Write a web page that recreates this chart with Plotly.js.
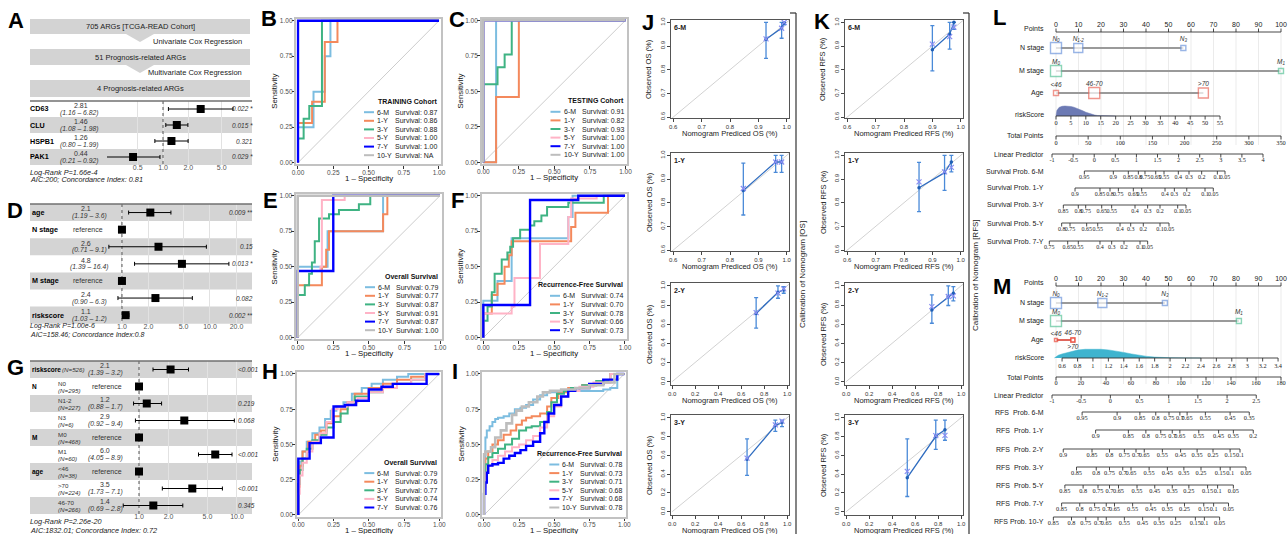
<!DOCTYPE html>
<html><head><meta charset="utf-8">
<script src="https://cdn.plot.ly/plotly-3.0.1.min.js"></script>
<style>html,body{margin:0;padding:0;background:#fff}#chart{width:1288px;height:534px}</style>
</head><body><div id="chart"></div>
<script>
// ================= DATA =================
const flowBoxes=['705 ARGs [TCGA-READ Cohort]','51 Prognosis-related ARGs','4 Prognosis-related ARGs'];
const flowSteps=['Univariate Cox Regression','Multivariate Cox Regression'];

// Panel A forest
const aNames=['CD63','CLU','HSPB1','PAK1'];
const aHR=[2.81,1.46,1.26,0.44];
const aLo=[1.16,1.08,0.80,0.21];
const aHi=[6.82,1.98,1.99,0.92];
const aP=['0.022 *','0.015 *','0.321','0.029 *'];
const aTicks=[0.5,1,2,5];
const aFooter=['Log-Rank P=1.66e-4','AIC:200; Concordance Index: 0.81'];

// Panel D forest
const dNames=['age','N stage','','','M stage','','riskscore'];
const dHR=[2.1,1,2.6,4.8,1,2.4,1.1];
const dLo=[1.19,null,0.71,1.39,null,0.90,1.03];
const dHi=[3.6,null,9.1,16.4,null,6.3,1.2];
const dP=['0.009 **','','0.15','0.013 *','','0.082','0.002 **'];
const dTicks=[1,2,5,10,20];
const dFooter=['Log-Rank P=1.00e-6','AIC=158.46; Concordance Index:0.8'];

// Panel G forest
const gNames=['riskscore','N','','','M','','age','',''];
const gLevels=['','N0','N1-2','N3','M0','M1','<46','>70','46-70'];
const gCounts=['(N=526)','(N=295)','(N=227)','(N=6)','(N=468)','(N=60)','(N=38)','(N=224)','(N=266)'];
const gHR=[2.1,1,1.2,2.9,1,6.0,1,3.5,1.4];
const gLo=[1.39,null,0.88,0.92,null,4.05,null,1.73,0.69];
const gHi=[3.2,null,1.7,9.4,null,8.9,null,7.1,2.8];
const gP=['<0.001','','0.219','0.068','','<0.001','','<0.001','0.345'];
const gTicks=[1,2,5,10];
const gFooter=['Log-Rank P=2.26e-20','AIC:1832.01; Concordance Index: 0.72'];

// ROC panels
const rocTimes=['6-M','1-Y','3-Y','5-Y','7-Y','10-Y'];
const rocTitles=['TRAINING Cohort','TESTING Cohort','Overall Survival','Recurrence-Free Survival','Overall Survival','Recurrence-Free Survival'];
const aucB=['0.87','0.86','0.88','1.00','1.00','NA'];
const aucC=['0.91','0.82','0.93','1.00','1.00','1.00'];
const aucE=['0.79','0.77','0.87','0.91','0.87','1.00'];
const aucF=['0.74','0.70','0.78','0.66','0.73'];
const aucH=['0.79','0.76','0.77','0.74','0.76'];
const aucI=['0.78','0.73','0.71','0.68','0.68','0.78'];

const rocB6M=[[0,0],[0,0.25],[0.11,0.25],[0.11,0.5],[0.19,0.5],[0.19,0.75],[0.23,0.75],[0.23,1],[1,1]];
const rocB1Y=[[0,0],[0,0.28],[0.1,0.28],[0.1,0.43],[0.19,0.43],[0.19,0.85],[0.28,0.85],[0.28,1],[1,1]];
const rocB3Y=[[0,0],[0,0.17],[0.04,0.17],[0.04,0.31],[0.08,0.31],[0.08,0.4],[0.17,0.4],[0.17,1],[1,1]];
const rocB5Y=[[0,0],[0,1],[1,1]];
const rocB7Y=[[0,0],[0,1],[1,1]];

const rocC6M=[[0,0],[0.09,0],[0.09,1],[1,1]];
const rocC1Y=[[0,0],[0.09,0],[0.09,0.46],[0.25,0.46],[0.25,1],[1,1]];
const rocC3Y=[[0,0],[0,0.55],[0.1,0.55],[0.1,0.67],[0.15,0.67],[0.15,0.76],[0.2,0.76],[0.2,1],[1,1]];
const rocC5Y=[[0,0],[0,1],[1,1]];
const rocC7Y=[[0,0],[0,1],[1,1]];
const rocC10Y=[[0,0],[0,1],[1,1]];

const rocE6M=[[0,0],[0,0.5],[0.21,0.5],[0.21,0.75],[0.6,0.75],[0.6,1],[1,1]];
const rocE1Y=[[0,0],[0,0.37],[0.17,0.37],[0.17,0.5],[0.2,0.5],[0.2,0.62],[0.22,0.62],[0.22,0.75],[0.6,0.75],[0.6,0.87],[0.63,0.87],[0.63,1],[1,1]];
const rocE3Y=[[0,0],[0,0.3],[0.05,0.3],[0.05,0.37],[0.08,0.37],[0.08,0.45],[0.1,0.45],[0.1,0.53],[0.12,0.53],[0.12,0.68],[0.15,0.68],[0.15,0.84],[0.22,0.84],[0.22,0.87],[0.29,0.87],[0.29,0.9],[0.43,0.9],[0.43,0.94],[0.51,0.94],[0.51,1],[1,1]];
const rocE5Y=[[0,0],[0,0.47],[0.16,0.47],[0.16,0.5],[0.17,0.5],[0.17,0.97],[0.33,0.97],[0.33,1],[1,1]];
const rocE7Y=[[0,0],[0,0.47],[0.25,0.47],[0.25,1],[1,1]];
const rocE10Y=[[0,0],[0,1],[1,1]];

const rocF6M=[[0,0],[0,0.26],[0.1,0.26],[0.1,0.4],[0.2,0.4],[0.2,0.7],[0.6,0.7],[0.6,0.85],[0.63,0.85],[0.63,1],[1,1]];
const rocF1Y=[[0,0],[0,0.17],[0.06,0.17],[0.06,0.3],[0.1,0.3],[0.1,0.38],[0.15,0.38],[0.15,0.5],[0.18,0.5],[0.18,0.58],[0.2,0.58],[0.2,0.68],[0.62,0.68],[0.62,0.78],[0.65,0.78],[0.65,0.88],[0.88,0.88],[0.88,1],[1,1]];
const rocF3Y=[[0,0],[0,0.12],[0.03,0.12],[0.03,0.22],[0.06,0.22],[0.06,0.32],[0.08,0.32],[0.08,0.45],[0.13,0.45],[0.13,0.55],[0.17,0.55],[0.17,0.6],[0.19,0.6],[0.19,0.64],[0.21,0.64],[0.21,0.7],[0.26,0.7],[0.26,0.76],[0.33,0.76],[0.33,0.79],[0.36,0.79],[0.36,0.82],[0.41,0.82],[0.41,0.86],[0.45,0.86],[0.45,0.92],[0.6,0.92],[0.6,0.95],[0.85,0.95],[0.85,1],[1,1]];
const rocF5Y=[[0,0],[0,0.17],[0.2,0.17],[0.2,0.22],[0.22,0.22],[0.22,0.42],[0.4,0.42],[0.4,0.66],[0.6,0.66],[0.6,0.85],[0.62,0.85],[0.62,0.98],[0.8,0.98],[0.8,1],[1,1]];
const rocF7Y=[[0,0],[0,0.23],[0.33,0.23],[0.33,0.97],[0.67,0.97],[0.67,1],[1,1]];

const rocH6M=[[0,0],[0.01,0.22],[0.03,0.38],[0.06,0.45],[0.1,0.52],[0.15,0.58],[0.19,0.62],[0.23,0.68],[0.27,0.74],[0.32,0.77],[0.38,0.8],[0.45,0.86],[0.52,0.9],[0.6,0.93],[0.7,0.96],[0.78,0.98],[0.84,1],[1,1]];
const rocH1Y=[[0,0],[0.01,0.2],[0.03,0.35],[0.07,0.45],[0.12,0.52],[0.16,0.57],[0.2,0.6],[0.25,0.65],[0.3,0.7],[0.35,0.75],[0.4,0.8],[0.5,0.86],[0.6,0.9],[0.7,0.93],[0.8,0.96],[0.9,0.98],[1,1]];
const rocH3Y=[[0,0],[0.01,0.22],[0.03,0.32],[0.06,0.4],[0.1,0.47],[0.15,0.53],[0.2,0.57],[0.25,0.62],[0.3,0.66],[0.35,0.72],[0.4,0.78],[0.5,0.84],[0.6,0.87],[0.7,0.9],[0.8,0.93],[0.9,0.96],[1,1]];
const rocH5Y=[[0,0],[0.01,0.15],[0.03,0.28],[0.06,0.37],[0.1,0.45],[0.15,0.52],[0.2,0.58],[0.24,0.66],[0.28,0.75],[0.35,0.77],[0.42,0.8],[0.5,0.83],[0.6,0.87],[0.7,0.9],[0.8,0.93],[0.9,0.96],[1,1]];
const rocH7Y=[[0,0],[0.08,0.4],[0.16,0.51],[0.25,0.55],[0.33,0.77],[0.41,0.78],[0.5,0.81],[0.59,0.89],[0.67,0.91],[0.91,0.93],[1,1]];

const rocI6M=[[0,0],[0.01,0.4],[0.02,0.55],[0.04,0.6],[0.06,0.63],[0.08,0.66],[0.1,0.68],[0.14,0.69],[0.18,0.7],[0.22,0.72],[0.26,0.75],[0.3,0.76],[0.35,0.78],[0.4,0.82],[0.45,0.85],[0.55,0.87],[0.65,0.88],[0.75,0.88],[0.85,0.88],[0.9,0.89],[0.95,0.9],[1,1]];
const rocI1Y=[[0,0],[0.01,0.3],[0.03,0.4],[0.06,0.45],[0.1,0.5],[0.14,0.53],[0.19,0.57],[0.23,0.6],[0.27,0.64],[0.3,0.67],[0.34,0.69],[0.4,0.7],[0.45,0.72],[0.48,0.77],[0.53,0.83],[0.6,0.87],[0.7,0.9],[0.8,0.92],[0.9,0.94],[1,1]];
const rocI3Y=[[0,0],[0.01,0.25],[0.03,0.36],[0.06,0.41],[0.1,0.44],[0.15,0.47],[0.2,0.5],[0.25,0.54],[0.3,0.6],[0.34,0.62],[0.4,0.63],[0.45,0.66],[0.48,0.73],[0.52,0.8],[0.57,0.86],[0.62,0.88],[0.7,0.9],[0.8,0.92],[0.9,0.95],[1,1]];
const rocI5Y=[[0,0],[0.01,0.2],[0.03,0.3],[0.06,0.35],[0.1,0.39],[0.15,0.42],[0.2,0.45],[0.25,0.48],[0.3,0.5],[0.35,0.53],[0.4,0.56],[0.45,0.62],[0.5,0.7],[0.55,0.77],[0.6,0.84],[0.68,0.88],[0.78,0.91],[0.9,0.94],[1,1]];
const rocI7Y=[[0,0],[0.01,0.15],[0.02,0.23],[0.03,0.3],[0.06,0.35],[0.1,0.36],[0.14,0.37],[0.18,0.4],[0.22,0.42],[0.26,0.44],[0.3,0.46],[0.35,0.49],[0.4,0.52],[0.43,0.58],[0.46,0.66],[0.5,0.72],[0.55,0.78],[0.6,0.84],[0.65,0.88],[0.75,0.9],[0.85,0.93],[0.95,0.96],[1,1]];
const rocI10Y=[[0,0],[0.01,0.43],[0.05,0.45],[0.08,0.48],[0.12,0.55],[0.16,0.6],[0.2,0.65],[0.23,0.71],[0.27,0.74],[0.32,0.77],[0.38,0.8],[0.42,0.84],[0.47,0.87],[0.55,0.88],[0.65,0.89],[0.75,0.9],[0.85,0.92],[0.93,0.94],[1,1]];

// Calibration (J: OS, K: RFS), rows 6-M, 1-Y, 2-Y, 3-Y
const calTimes=['6-M','1-Y','2-Y','3-Y'];
const jPred=[[0.927,0.982,0.991],[0.847,0.961,0.982],[0.731,0.921,0.971],[0.652,0.898,0.956]];
const jObs=[[0.929,0.976,0.998],[0.852,0.972,0.972],[0.712,0.934,0.958],[0.56,0.917,0.952]];
const jLo=[[0.848,0.933,0.99],[0.748,0.928,0.928],[0.558,0.871,0.923],[0.387,0.855,0.907]];
const jHi=[[1.0,1.0,1.0],[0.967,1.0,1.0],[0.878,1.0,0.993],[0.775,0.976,0.976]];
const jKM=[[0.93,0.975,1.0],[0.86,0.972,0.972],[0.72,0.925,0.968],[0.57,0.925,0.965]];
const kPred=[[0.9,0.961,0.976],[0.853,0.943,0.967],[0.746,0.889,0.933],[0.532,0.78,0.86]];
const kObs=[[0.884,0.95,1.0],[0.863,0.927,0.972],[0.749,0.889,0.923],[0.363,0.803,0.872]];
const kLo=[[0.795,0.887,0.97],[0.762,0.852,0.93],[0.61,0.795,0.843],[0.162,0.664,0.761]];
const kHi=[[0.986,1.0,1.0],[0.97,1.0,1.0],[0.906,1.0,0.993],[0.775,0.976,0.976]];
const kKM=[[0.908,0.94,0.98],[0.888,0.93,0.949],[0.784,0.889,0.895],[0.429,0.81,0.813]];

// Nomogram L (OS)
const pointsTicks=[0,10,20,30,40,50,60,70,80,90,100];
const lNLevels=['N<sub>0</sub>','N<sub>1-2</sub>','N<sub>3</sub>'];
const lNPts=[0,9.9,56.6];
const lMLevels=['M<sub>0</sub>','M<sub>1</sub>'];
const lMPts=[0,100];
const lAgeLevels=['<46','46-70','>70'];
const lAgePts=[0,17,65.5];
const lRiskTicks=[0,5,10,15,20,25,30,35,40,45,50,55];
const lRiskPtsAt55=72.9;
const lRiskDensX=[0,0.3,1,2,3,4,5,6,7,8,9,10,11,12,13,14,15,17,20];
const lRiskDensY=[0,0.55,0.85,0.97,1.0,0.99,0.95,0.88,0.78,0.66,0.52,0.38,0.26,0.16,0.09,0.05,0.03,0.01,0];
const lTotalTicks=[0,50,100,150,200,250,300,350];
const lLPTicks=[-1,-0.5,0,0.5,1,1.5,2,2.5,3,3.5,4];
const lLPTotalEnds=[-6.2,322];
const lSurvNames=['Survival Prob. 6-M','Survival Prob. 1-Y','Survival Prob. 3-Y','Survival Prob. 5-Y','Survival Prob. 7-Y'];
const lSurv6M=[44.1,89.2,112.5,128.1,138.4,155.1,168,190.3,206.9,226.6,251,262.9];
const lSurv6MLab=['0.95','0.9','0.85','0.8','0.75','0.65','0.55','0.4','0.3','0.2','0.1','0.05'];
const lSurv1Y=[29.6,68.4,84,97,120.3,133.3,169.6,184.1,203.4,231.8,244.7];
const lSurv1YLab=['0.9','0.85','0.8','0.75','0.65','0.55','0.4','0.3','0.2','0.1','0.05'];
const lSurv3Y=[11.4,34.7,46.2,71.1,86.6,122.9,142.6,161.8,189.3,202.2];
const lSurv3YLab=['0.85','0.8','0.75','0.65','0.55','0.4','0.3','0.2','0.1','0.05'];
const lSurv5Y=[8.8,21.8,47.7,64.9,99.6,116.2,135.8,161.8,175.8];
const lSurv5YLab=['0.8','0.75','0.65','0.55','0.4','0.3','0.2','0.1','0.05'];
const lSurv7Y=[-10.4,18.2,34.7,68.4,86.6,105.8,130.7,142.6];
const lSurv7YLab=['0.75','0.65','0.55','0.4','0.3','0.2','0.1','0.05'];

// Nomogram M (RFS)
const mNPts=[0,20.6,48.4];
const mMPts=[0,81.3];
const mAgePts=[0,7.5,7.5];
const mRiskTicks=[0.6,0.8,1,1.2,1.4,1.6,1.8,2,2.2,2.4,2.6,2.8,3,3.2,3.4];
const mRiskPtsEnds=[2.7,98.7];
const mRiskDensX=[0.5,0.55,0.6,0.7,0.8,0.9,1.0,1.1,1.2,1.3,1.4,1.5,1.6,1.7,1.8,1.9,2.0,2.2,2.4];
const mRiskDensY=[0,0.3,0.45,0.7,0.88,0.97,1.0,0.97,0.9,0.78,0.62,0.45,0.3,0.18,0.1,0.05,0.03,0.01,0];
const mTotalTicks=[0,20,40,60,80,100,120,140,160,180];
const mLPTicks=[-1,-0.5,0,0.5,1,1.5,2,2.5];
const mLPTotalEnds=[-3.2,160.2];
const mRFSNames=['RFS\u00a0\u00a0Prob. 6-M','RFS\u00a0\u00a0Prob. 1-Y','RFS\u00a0\u00a0Prob. 2-Y','RFS\u00a0\u00a0Prob. 3-Y','RFS\u00a0\u00a0Prob. 5-Y','RFS\u00a0\u00a0Prob. 7-Y','RFS Prob. 10-Y'];
const mRFS6M=[20.9,48.9,67.1,79.8,90.4,99.1,104.9,119.5,139.3,154.6];
const mRFS6MLab=['0.95','0.9','0.85','0.8','0.75','0.7','0.65','0.55','0.45','0.35'];
const mRFS1Y=[31.7,57.9,71.9,83.8,93.0,99.1,114.2,130.1,141.9,157.8];
const mRFS1YLab=['0.9','0.85','0.8','0.75','0.7','0.65','0.55','0.45','0.35','0.2'];
const mRFS2Y=[5.8,28.8,42.8,54.7,64.0,70.6,85.1,99.7,112.9,125.6,139.3,147.2];
const mRFS2YLab=['0.9','0.85','0.8','0.75','0.7','0.65','0.55','0.45','0.35','0.25','0.15','0.1'];
const mRFS3Y=[16.4,32.2,42.8,53.4,60.0,74.5,89.1,102.3,116.0,131.4,139.3,152.0];
const mRFS5Y=[7.1,21.7,33.6,42.8,50.0,64.8,79.0,93.0,106.3,121.3,129.3,141.9];
const mRFS7Y=[4.5,19.0,30.9,40.2,46.8,61.3,75.9,89.1,102.8,118.2,126.1,138.0];
const mRFS10Y=[-2.1,12.4,23.8,33.6,40.2,54.7,69.3,82.5,95.7,111.5,118.7,130.9];
const mRFSLateLab=['0.85','0.8','0.75','0.7','0.65','0.55','0.45','0.35','0.25','0.15','0.1','0.05'];

// ================= BUILD =================
const W=1288,H=534;
const SANS='"Liberation Sans", Arial, Helvetica, sans-serif';
const SERIF='"Liberation Serif", "Times New Roman", serif';
const layout={width:W,height:H,margin:{l:0,r:0,t:0,b:0,pad:0},paper_bgcolor:'#fff',plot_bgcolor:'rgba(0,0,0,0)',showlegend:false,hovermode:false,font:{family:SANS,size:7,color:'#000'}};
const traces=[],shapes=[],annotations=[];
const fx=x=>x/W, fy=y=>1-y/H;
let nAx=0;
function mkAx(x0,x1,y0,y1,xo,yo){
  nAx++; const s=nAx===1?'':String(nAx);
  layout['xaxis'+s]=Object.assign({domain:[fx(x0),fx(x1)],anchor:'y'+s,showgrid:false,zeroline:false,fixedrange:true},xo||{});
  layout['yaxis'+s]=Object.assign({domain:[fy(y1),fy(y0)],anchor:'x'+s,showgrid:false,zeroline:false,fixedrange:true},yo||{});
  return {x:'x'+s,y:'y'+s};
}
function T(x,y,text,o){o=o||{};annotations.push({xref:'paper',yref:'paper',x:fx(x),y:fy(y),text:text,showarrow:false,xanchor:o.a||'center',yanchor:'middle',textangle:o.rot||0,font:{family:o.f||SANS,size:o.s||7,color:o.c||'#000'},borderpad:0,borderwidth:0});}
function Ln(x0,y0,x1,y1,color,w,dash){shapes.push({type:'line',xref:'paper',yref:'paper',x0:fx(x0),y0:fy(y0),x1:fx(x1),y1:fy(y1),line:{color:color,width:w||1,dash:dash||'solid'},layer:'above'});}
function Rc(x0,y0,x1,y1,fill){shapes.push({type:'rect',xref:'paper',yref:'paper',x0:fx(x0),y0:fy(y0),x1:fx(x1),y1:fy(y1),fillcolor:fill,line:{width:0},layer:'below'});}
function Poly(pts,fill){shapes.push({type:'path',xref:'paper',yref:'paper',path:'M'+pts.map(p=>fx(p[0])+','+fy(p[1])).join(' L')+' Z',fillcolor:fill,line:{width:0},layer:'below'});}

// ---- Panel letters
[['A',16,21],['B',269,19],['C',457,20],['D',15,211],['E',270,200],['F',458,200],['G',15,367],['H',270,371],['I',455,371],['J',648,23],['K',822,22],['L',999,18],['M',1002,286]]
 .forEach(l=>T(l[1],l[2],'<b>'+l[0]+'</b>',{s:22}));

// ---- Panel A flow chart
const boxY=[[19,34],[49,65],[80,97]];
flowBoxes.forEach((t,i)=>{Rc(30,boxY[i][0],250,boxY[i][1],'#d3d3d3');T(140,(boxY[i][0]+boxY[i][1])/2,t,{s:7.5,c:'#222'});});
flowSteps.forEach((t,i)=>{const yb=boxY[i][1];Poly([[126,yb],[154,yb],[140,yb+8]],'#d3d3d3');T(242,yb+7.5,t,{a:'right',s:7.5,c:'#222'});});

// ---- Forest plots
function fmtHR(v,d2){return d2?v.toFixed(2):v.toPrecision(2);}
function fmtHi(v,d2){return d2?v.toFixed(2):(v>=10?v.toFixed(1):v.toPrecision(2));}
function forest(c){
  const n=c.hr.length, bot=c.top+n*c.rowH;
  const ax=mkAx(c.ax0,c.ax1,c.top,bot,
    {type:'log',range:[c.lmin,c.lmax],tickmode:'array',tickvals:c.ticks,ticktext:c.ticks.map(v=>v.toFixed(1)),ticks:'',showline:false,showgrid:true,gridcolor:'#e2e2e2',gridwidth:1,ticklabelstandoff:-3,tickfont:{family:SANS,size:7,color:'#555'}},
    {range:[n-0.5,-0.5],showticklabels:false,ticks:'',showgrid:false});
  for(let i=0;i<n;i++) if(i%2===c.band) Rc(30,c.top+i*c.rowH,252,c.top+(i+1)*c.rowH,'#d4d4d4');
  Ln(30,c.top,252,c.top,'#707070',1.5);
  traces.push({type:'scatter',mode:'lines',x:[1,1],y:[-0.5,n-0.5],xaxis:ax.x,yaxis:ax.y,line:{color:'#555',width:1,dash:'dot'},hoverinfo:'skip'});
  const ep=c.hr.map((h,i)=>c.hi[i]==null?0:c.hi[i]-h), em=c.hr.map((h,i)=>c.lo[i]==null?0:h-c.lo[i]);
  traces.push({type:'scatter',mode:'markers',x:c.hr,y:c.hr.map((h,i)=>i),xaxis:ax.x,yaxis:ax.y,cliponaxis:false,
    marker:{symbol:'square',size:8,color:'#000'},error_x:{type:'data',symmetric:false,array:ep,arrayminus:em,color:'#000',thickness:1,width:2}});
  for(let i=0;i<n;i++){
    const yc=c.top+(i+0.5)*c.rowH;
    if(c.names[i]) T(c.nameX,yc,'<b>'+c.names[i]+'</b>',{a:'left',s:c.nameS});
    if(c.levels){
      if(c.levels[i]){T(c.levX,yc-3,c.levels[i],{a:'left',s:6.2,c:'#333'});T(c.levX,yc+3.5,'<i>'+c.counts[i]+'</i>',{a:'left',s:6.2,c:'#333'});}
      else T(c.levX+4,yc,'<i>'+c.counts[i]+'</i>',{a:'left',s:6.2,c:'#333'});
    }
    if(c.lo[i]==null) T(c.refX,yc,'reference',{s:7,c:'#333'});
    else{T(c.hrX,yc-3.6,fmtHR(c.hr[i],c.d2),{s:7,c:'#333'});T(c.hrX+c.ciDx,yc+3.6,'<i>('+c.lo[i].toFixed(2)+' – '+fmtHi(c.hi[i],c.d2)+')</i>',{s:6.8,c:'#333'});}
    if(c.p[i]) T(c.pX,yc,'<i>'+c.p[i]+'</i>',{a:c.pA,s:6.5,c:'#333'});
  }
  T(30,bot+c.f[0],'<i>'+c.footer[0]+'</i>',{a:'left',s:c.fs,c:'#222'});
  T(30,bot+c.f[1],'<i>'+c.footer[1]+'</i>',{a:'left',s:c.fs,c:'#222'});
}
forest({names:aNames,hr:aHR,lo:aLo,hi:aHi,p:aP,ticks:aTicks,footer:aFooter,top:101,rowH:16,ax0:107,ax1:250,lmin:-0.667,lmax:1.036,band:1,nameX:30,nameS:7.2,hrX:81,ciDx:-2,refX:88,pX:253,pA:'right',d2:true,f:[7,15],fs:7.3});
forest({names:dNames,hr:dHR,lo:dLo,hi:dHi,p:dP,ticks:dTicks,footer:dFooter,top:204,rowH:17.1,ax0:107,ax1:250,lmin:-0.170,lmax:1.4545,band:0,nameX:32,nameS:7.2,hrX:86,ciDx:4,refX:88,pX:253,pA:'right',d2:false,f:[2,11],fs:7});
forest({names:gNames,levels:gLevels,counts:gCounts,hr:gHR,lo:gLo,hi:gHi,p:gP,ticks:gTicks,footer:gFooter,top:361,rowH:17,ax0:110,ax1:250,lmin:-0.296,lmax:1.133,band:0,nameX:32,nameS:6.5,levX:58,hrX:105,ciDx:0,refX:107,pX:238,pA:'left',d2:false,f:[7,16],fs:7.3});

// ---- ROC panels
const ROC_COLORS=['#7cbde0','#f4895c','#3fb383','#ffb3c6','#0000ff','#bdbdbd'];
function roc(c){
  const sx=c.xb-c.xa, sy=c.yb-c.ya, e=0.012;
  const st={range:[-e,1+e],tickmode:'array',tickvals:[0,0.25,0.5,0.75,1],ticktext:['0.00','0.25','0.50','0.75','1.00'],ticks:'outside',ticklen:2.5,tickwidth:1,tickcolor:'#333',showline:true,mirror:true,linecolor:'#c2c2c2',linewidth:2,ticklabelstandoff:-2,tickfont:{family:SANS,size:6.5,color:'#4d4d4d'}};
  const ax=mkAx(c.xa-e*sx,c.xb+e*sx,c.ya-e*sy,c.yb+e*sy,Object.assign({},st),Object.assign({},st));
  traces.push({type:'scatter',mode:'lines',x:[0,1],y:[0,1],xaxis:ax.x,yaxis:ax.y,line:{color:'#cccccc',width:1},hoverinfo:'skip'});
  c.curves.forEach((pts,i)=>{ if(!pts) return;
    traces.push({type:'scatter',mode:'lines',x:pts.map(p=>p[0]),y:pts.map(p=>p[1]),xaxis:ax.x,yaxis:ax.y,cliponaxis:false,
      line:{color:ROC_COLORS[i],width:i===4?2.4:(i===5?2.6:2),shape:c.shape},hoverinfo:'skip'});});
  const R=c.xb+1, n=c.auc.length, yl=c.yb-7.5, sp=8.6;
  for(let k=0;k<n;k++){
    const ye=yl-(n-1-k)*sp;
    Ln(R-76,ye,R-66,ye,ROC_COLORS[k],2);
    T(R-63,ye,rocTimes[k],{a:'left',s:7,c:'#222'});
    T(R-45,ye,'Survival: '+c.auc[k],{a:'left',s:7,c:'#222'});
  }
  T(R-3,yl-(n-1)*sp-11,'<b>'+c.title+'</b>',{a:'right',s:7,c:'#111'});
  T((c.xa+c.xb)/2,c.yb+15.5,'1 – Specificity',{s:7.8,c:'#111'});
  T(c.xa-23,(c.ya+c.yb)/2,'Sensitivity',{rot:-90,s:7.8,c:'#111'});
}
roc({curves:[rocB6M,rocB1Y,rocB3Y,rocB5Y,rocB7Y,null],auc:aucB,title:rocTitles[0],xa:298,xb:439,ya:20.7,yb:162.7,shape:'linear'});
roc({curves:[rocC6M,rocC1Y,rocC3Y,rocC5Y,rocC7Y,rocC10Y],auc:aucC,title:rocTitles[1],xa:483.3,xb:625.5,ya:20.3,yb:162.3,shape:'linear'});
roc({curves:[rocE6M,rocE1Y,rocE3Y,rocE5Y,rocE7Y,rocE10Y],auc:aucE,title:rocTitles[2],xa:297.7,xb:440,ya:195.7,yb:337.7,shape:'linear'});
roc({curves:[rocF6M,rocF1Y,rocF3Y,rocF5Y,rocF7Y],auc:aucF,title:rocTitles[3],xa:483.3,xb:625,ya:195.7,yb:337.7,shape:'linear'});
roc({curves:[rocH6M,rocH1Y,rocH3Y,rocH5Y,rocH7Y],auc:aucH,title:rocTitles[4],xa:298.3,xb:439.3,ya:374,yb:515,shape:'vh'});
roc({curves:[rocI6M,rocI1Y,rocI3Y,rocI5Y,rocI7Y,rocI10Y],auc:aucI,title:rocTitles[5],xa:484,xb:624.3,ya:374,yb:515,shape:'vh'});

// ---- Calibration panels
const calRows=[[20,118],[153,251],[283,385],[415,515]];
function cal(c){
  const fine=c.row<2;
  const tv=fine?[0.6,0.7,0.8,0.9,1.0]:[0,0.2,0.4,0.6,0.8,1.0];
  const base={tickmode:'array',tickvals:tv,ticktext:tv.map(v=>v.toFixed(1)),ticks:'outside',ticklen:3,tickwidth:1,tickcolor:'#444',showline:true,mirror:true,linecolor:'#555',linewidth:1,tickfont:{family:SANS,size:6,color:'#333'}};
  const ax=mkAx(c.x0,c.x1,calRows[c.row][0],calRows[c.row][1],
    Object.assign({range:fine?[0.592,1.008]:[-0.01,1.017]},base),
    Object.assign({range:fine?[0.596,1.01]:[-0.035,1.03],tickangle:-90},base));
  traces.push({type:'scatter',mode:'lines',x:[0,1.1],y:[0,1.1],xaxis:ax.x,yaxis:ax.y,line:{color:'#d2d2d2',width:1},hoverinfo:'skip'});
  const p=c.pred,o=c.obs;
  traces.push({type:'scatter',mode:'lines+markers',x:p,y:o,xaxis:ax.x,yaxis:ax.y,cliponaxis:false,line:{color:'#2e6cc0',width:1.3},marker:{size:3.5,color:'#1f5fb5'},
    error_y:{type:'data',symmetric:false,array:o.map((v,i)=>c.hi[i]-v),arrayminus:o.map((v,i)=>v-c.lo[i]),color:'#4a8ad8',thickness:1.3,width:2}});
  traces.push({type:'scatter',mode:'markers',x:p,y:c.km,xaxis:ax.x,yaxis:ax.y,cliponaxis:false,marker:{symbol:'x-thin-open',size:5,color:'#8a8ef2',line:{color:'#8a8ef2',width:1.2}}});
  const y0=calRows[c.row][0],y1=calRows[c.row][1];
  T(c.x0+3,y0+7,'<b>'+calTimes[c.row]+'</b>',{a:'left',s:7,c:'#222'});
  T((c.x0+c.x1)/2,y1+15,c.xt,{s:7.5,c:'#222'});
  T(c.x0-22,(y0+y1)/2,c.yt,{rot:-90,s:7.5,c:'#222'});
}
for(let r=0;r<4;r++){
  cal({row:r,x0:671,x1:789,pred:jPred[r],obs:jObs[r],lo:jLo[r],hi:jHi[r],km:jKM[r],xt:'Nomogram Prediced OS (%)',yt:'Observed OS (%)'});
  cal({row:r,x0:845,x1:963,pred:kPred[r],obs:kObs[r],lo:kLo[r],hi:kHi[r],km:kKM[r],xt:'Nomogram Prediced RFS (%)',yt:'Observed RFS (%)'});
}
Ln(790,13,796,13,'#333',1.2);Ln(796,13,796,534,'#333',1.2);
T(802,275,'Calibration of Nomogram [OS]',{rot:-90,s:8,c:'#222'});
Ln(963,13,969,13,'#333',1.2);Ln(969,13,969,534,'#333',1.2);
T(975,275,'Calibration of Nomogram [RFS]',{rot:-90,s:8,c:'#222'});

// ---- Nomograms (x in points units, y in pixel rows)
const NAX=mkAx(1040,1285,0,534,{range:[-7.111,101.778],visible:false},{range:[534,0],visible:false});
function nLine(x,y,color,w){traces.push({type:'scatter',mode:'lines',x:x,y:y,xaxis:NAX.x,yaxis:NAX.y,line:{color:color,width:w},cliponaxis:false,hoverinfo:'skip'});}
function nText(x,y,text,font,size,color){traces.push({type:'scatter',mode:'text',x:x,y:y,text:text,textposition:'middle center',textfont:{family:font,size:size,color:color||'#222'},xaxis:NAX.x,yaxis:NAX.y,cliponaxis:false,hoverinfo:'skip'});}
function nScale(pos,labels,yLine,up,labY,font,size){
  nLine([Math.min(...pos),Math.max(...pos)],[yLine,yLine],'#333',0.9);
  const tx=[],ty=[];pos.forEach(p=>{tx.push(p,p,null);ty.push(yLine,yLine+(up?-3.5:3.5),null);});
  nLine(tx,ty,'#333',0.9);
  nText(pos,pos.map(()=>labY),labels,font,size);
}
function nBoxes(pos,sizes,labels,yRow,labYs,color,lineColor){
  nLine([Math.min(...pos),Math.max(...pos)],[yRow,yRow],lineColor||'#9a9a9a',2);
  traces.push({type:'scatter',mode:'markers',x:pos,y:pos.map(()=>yRow),xaxis:NAX.x,yaxis:NAX.y,cliponaxis:false,marker:{symbol:'square',size:sizes,color:'#fff',line:{color:color,width:1.4}}});
  nText(pos,labYs,labels.map(s=>'<i>'+s+'</i>'),SANS,6.5,'#333');
}
function nGrid(y0,y1){const gx=[],gy=[];pointsTicks.forEach(p=>{gx.push(p,p,null);gy.push(y0,y1,null);});nLine(gx,gy,'#ebebeb',1);}
function nDensity(xs,ys,base,h,color){nLine(xs,ys.map(v=>base-v*h),color,0.5);traces[traces.length-1].fill='toself';traces[traces.length-1].fillcolor=color;}
const rowLab=(y,t)=>T(1044,y,t,{a:'right',s:7,c:'#222'});
const NS=6.3, NSL=6.0;

// L
nGrid(32,145);
rowLab(28.5,'Points');nScale(pointsTicks,pointsTicks.map(String),32,true,25,SANS,7);
rowLab(48,'N stage');nBoxes(lNPts,[11,9,5],lNLevels,48,[39,39,39],'#6f96dc');
rowLab(71,'M stage');nBoxes(lMPts,[11,5],lMLevels,71,[62,62],'#5cc49a');
rowLab(93,'Age');nBoxes(lAgePts,[5,11,10],lAgeLevels,93,[85,84,84],'#ea6a5e');
const lRs2Pts=v=>v*lRiskPtsAt55/55;
rowLab(115,'riskScore');nDensity(lRiskDensX.map(lRs2Pts),lRiskDensY,116,10,'#6c7ab4');
nScale(lRiskTicks.map(lRs2Pts),lRiskTicks.map(String),116,false,123,SERIF,NS);
rowLab(136,'Total Points');nScale(lTotalTicks.map(t=>t/3.5),lTotalTicks.map(String),136,false,143,SERIF,NS);
const lLP2Pts=v=>(lLPTotalEnds[0]+(v-lLPTicks[0])*(lLPTotalEnds[1]-lLPTotalEnds[0])/(lLPTicks[lLPTicks.length-1]-lLPTicks[0]))/3.5;
rowLab(154,'Linear Predictor');nScale(lLPTicks.map(lLP2Pts),lLPTicks.map(String),154,false,160.5,SERIF,NS);
[[lSurv6M,lSurv6MLab],[lSurv1Y,lSurv1YLab],[lSurv3Y,lSurv3YLab],[lSurv5Y,lSurv5YLab],[lSurv7Y,lSurv7YLab]].forEach((s,i)=>{
  const y=[171,188,205,223,241][i];
  rowLab(y,lSurvNames[i]);nScale(s[0].map(t=>t/3.5),s[1],y,false,y+6.5,SERIF,NSL);
});

// M
nGrid(286,384);
rowLab(282.5,'Points');nScale(pointsTicks,pointsTicks.map(String),286,true,279,SANS,7);
rowLab(303,'N stage');nBoxes(mNPts,[11,9,5],lNLevels,303,[294,294,294],'#6f96dc');
rowLab(321,'M stage');nBoxes(mMPts,[11,5],lMLevels,321,[312.5,312.5],'#5cc49a');
rowLab(340,'Age');nBoxes(mAgePts,[3,4,4],lAgeLevels,340,[334,333.5,347],'#ea4a3a','#e0665c');
const mRs2Pts=v=>mRiskPtsEnds[0]+(v-mRiskTicks[0])*(mRiskPtsEnds[1]-mRiskPtsEnds[0])/(mRiskTicks[mRiskTicks.length-1]-mRiskTicks[0]);
rowLab(357,'riskScore');nDensity(mRiskDensX.map(mRs2Pts),mRiskDensY,358,9,'#3fb4cf');
nScale(mRiskTicks.map(mRs2Pts),mRiskTicks.map(String),358,false,366.5,SERIF,NS);
rowLab(377,'Total Points');nScale(mTotalTicks.map(t=>t/1.8),mTotalTicks.map(String),377,false,383.5,SERIF,NS);
const mLP2Pts=v=>(mLPTotalEnds[0]+(v-mLPTicks[0])*(mLPTotalEnds[1]-mLPTotalEnds[0])/(mLPTicks[mLPTicks.length-1]-mLPTicks[0]))/1.8;
rowLab(395,'Linear Predictor');nScale(mLPTicks.map(mLP2Pts),mLPTicks.map(String),395,false,401.5,SERIF,NS);
[[mRFS6M,mRFS6MLab],[mRFS1Y,mRFS1YLab],[mRFS2Y,mRFS2YLab],[mRFS3Y,mRFSLateLab],[mRFS5Y,mRFSLateLab],[mRFS7Y,mRFSLateLab],[mRFS10Y,mRFSLateLab]].forEach((s,i)=>{
  const y=[412,430,449,467,485,503,517][i];
  rowLab(i===6?521:y,mRFSNames[i]);nScale(s[0].map(t=>t/1.8),s[1],y,false,y+6.5,SERIF,NS);
});

layout.shapes=shapes;layout.annotations=annotations;
Plotly.newPlot('chart',traces,layout,{staticPlot:true,displayModeBar:false});
</script></body></html>
